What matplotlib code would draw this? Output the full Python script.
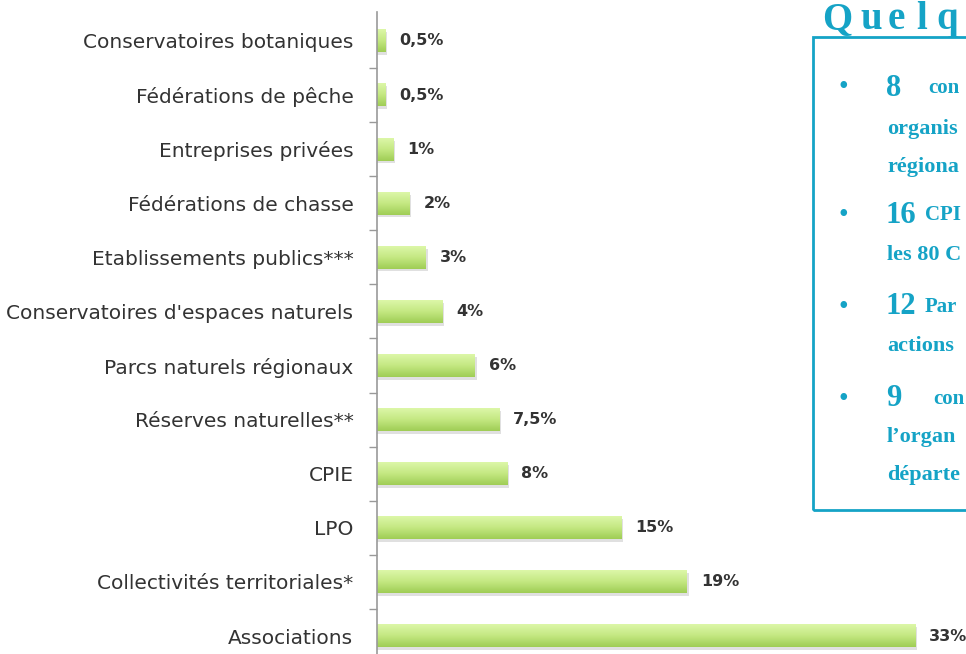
import numpy as np
import matplotlib.pyplot as plt
from matplotlib.patches import Rectangle
from matplotlib.colors import LinearSegmentedColormap

categories = [
    "Conservatoires botaniques",
    "Fédérations de pêche",
    "Entreprises privées",
    "Fédérations de chasse",
    "Etablissements publics***",
    "Conservatoires d'espaces naturels",
    "Parcs naturels régionaux",
    "Réserves naturelles**",
    "CPIE",
    "LPO",
    "Collectivités territoriales*",
    "Associations",
]
values = [0.5, 0.5, 1, 2, 3, 4, 6, 7.5, 8, 15, 19, 33]
value_labels = ["0,5%", "0,5%", "1%", "2%", "3%", "4%", "6%", "7,5%", "8%", "15%", "19%", "33%"]

# side panel text, only the part visible before the right edge
panel_title = "Quelq"
panel_numbers = ["8", "16", "12", "9"]
panel_first = ["con", "CPI", "Par", "con"]
panel_more = [["organis", "régiona"], ["les 80 C"], ["actions"], ["l\u2019organ", "départe"]]

teal = "#15a3c6"
label_font = ["DejaVu Sans"]
serif_font = ["Liberation Serif", "DejaVu Serif"]

fig = plt.figure(figsize=(9.66, 6.54), dpi=100)
ax = fig.add_axes([377 / 966, 0, 1 - 377 / 966, 1 - 12 / 654])

green = LinearSegmentedColormap.from_list("g", ["#dcf7a8", "#c4e882", "#9fcd55"])
grad = np.linspace(0, 1, 64).reshape(-1, 1)
bar_h = 0.42

for i, v in enumerate(values):
    # soft shadow
    ax.add_patch(Rectangle((0, i - bar_h / 2 + 0.05), v + 0.1, bar_h,
                           facecolor="#bbbbbb", edgecolor="none", alpha=0.45, zorder=1))
    ax.imshow(grad, cmap=green, aspect="auto", zorder=2,
              extent=[0, v, i + bar_h / 2, i - bar_h / 2], interpolation="bilinear")
    ax.annotate(value_labels[i], (v, i), xytext=(10, 0), textcoords="offset points",
                va="center", ha="left", fontsize=11.5, fontweight="bold",
                color="#333333", family=label_font, annotation_clip=False)

ax.set_xlim(0, 36.1)
ax.set_ylim(11 + 18 / 54.1, -29 / 54.1)
ax.set_yticks(range(len(categories)))
ax.set_yticklabels(categories, family=label_font, fontsize=14.5, color="#333333")
ax.tick_params(axis="y", which="major", length=0, pad=17)
ax.set_yticks(np.arange(0.5, len(categories) - 0.5, 1), minor=True)
ax.tick_params(axis="y", which="minor", length=6, color="#999999", width=1)
ax.set_xticks([])
for s in ["top", "right", "bottom"]:
    ax.spines[s].set_visible(False)
ax.spines["left"].set_color("#999999")
ax.spines["left"].set_linewidth(1.2)

# side panel
fig.patches.append(Rectangle((813 / 966, 1 - 510 / 654), 0.3, (510 - 37) / 654,
                             transform=fig.transFigure, fill=False,
                             edgecolor=teal, linewidth=2, zorder=5))
title_x = [822, 860, 888, 916, 936]
for ch, x in zip(panel_title, title_x):
    fig.text(x / 966, 1 - 29 / 654, ch, color=teal,
             fontsize=28, fontweight="bold", family=serif_font, va="baseline")

line_y = [[88, 129, 167], [215, 255], [307, 346], [399, 437, 475]]
first_x = [928, 925, 925, 933]
for k, ys in enumerate(line_y):
    y0 = 1 - ys[0] / 654
    fig.text(843 / 966, y0, "•", color=teal, fontsize=20,
             family=serif_font, va="center", ha="center")
    fig.text(886 / 966, y0, panel_numbers[k], color=teal, fontsize=22,
             fontweight="bold", family=serif_font, va="center")
    fig.text(first_x[k] / 966, y0, panel_first[k], color=teal, fontsize=15,
             fontweight="bold", family=serif_font, va="center")
    for txt, y in zip(panel_more[k], ys[1:]):
        fig.text(887 / 966, 1 - y / 654, txt, color=teal, fontsize=16,
                 fontweight="bold", family=serif_font, va="center")

fig.savefig("out.png", dpi=100)
